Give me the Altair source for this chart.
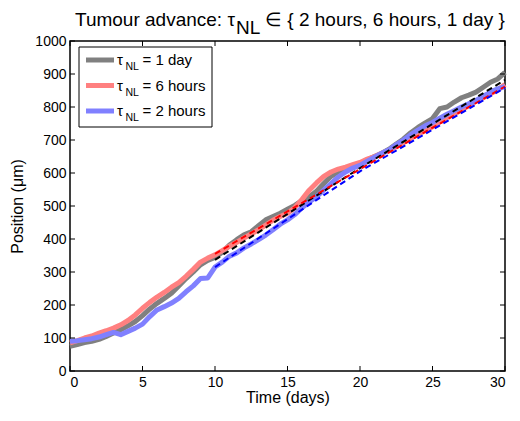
import altair as alt
import pandas as pd

FONT = "Liberation Sans"

# ---------------- data ----------------
time_days = [0, 0.5, 1, 1.5, 2, 2.5, 3, 3.5, 4, 4.5, 5, 5.5, 6, 6.5, 7, 7.5, 8, 8.5, 9, 9.5,
             10, 10.5, 11, 11.5, 12, 12.5, 13, 13.5, 14, 14.5, 15, 15.5, 16, 16.5, 17, 17.5,
             18, 18.5, 19, 19.5, 20, 20.5, 21, 21.5, 22, 22.5, 23, 23.5, 24, 24.5, 25, 25.5,
             26, 26.5, 27, 27.5, 28, 28.5, 29, 29.5, 30]

pos_1day = [75, 80, 86, 90, 96, 105, 115, 125, 137, 150, 168, 188, 205, 220, 236, 258, 280, 300,
            322, 335, 344, 360, 382, 398, 413, 422, 440, 458, 468, 478, 490, 502, 516, 528, 545,
            568, 590, 603, 612, 620, 628, 640, 650, 660, 672, 688, 703, 722, 738, 752, 765, 795,
            800, 815, 828, 836, 845, 860, 875, 885, 905]

pos_6h = [85, 92, 100, 106, 115, 122, 130, 140, 153, 170, 190, 208, 224, 238, 254, 268, 287, 308,
          330, 342, 352, 365, 378, 390, 403, 415, 428, 442, 457, 468, 478, 495, 520, 548, 570,
          590, 603, 612, 618, 625, 632, 642, 650, 660, 668, 680, 692, 705, 718, 728, 740, 755,
          768, 780, 790, 805, 818, 828, 840, 852, 868]

pos_2h = [90, 92, 95, 98, 103, 110, 117, 110, 120, 130, 142, 165, 185, 195, 206, 220, 240, 258,
          280, 282, 315, 330, 348, 358, 373, 385, 398, 412, 428, 445, 458, 474, 495, 512, 528,
          548, 568, 588, 603, 615, 623, 636, 648, 660, 670, 686, 700, 716, 730, 743, 753, 766,
          778, 789, 800, 810, 820, 833, 845, 855, 862]

fit_days = [10, 20, 30]
fit_1day = [337, 615, 882]
fit_6h = [355, 612, 862]
fit_2h = [315, 605, 858]

x_ticks = [0, 5, 10, 15, 20, 25, 30]
y_ticks = [0, 100, 200, 300, 400, 500, 600, 700, 800, 900, 1000]

legend_values = ["= 1 day", "= 6 hours", "= 2 hours"]
title_parts = ["Tumour advance: \u03c4", "NL", "\u2208 { 2 hours, 6 hours, 1 day }"]
x_title = "Time (days)"
y_title = "Position (\u03bcm)"

# ---------------- styling ----------------
W, H = 435, 330
solid_colors = ["#808080", "#ff8080", "#8080ff"]
dash_colors = ["#000000", "#ff0000", "#0000ff"]

xscale = alt.Scale(domain=[0, 30], nice=False, zero=False)
yscale = alt.Scale(domain=[0, 1000], nice=False, zero=False)
xaxis = alt.Axis(values=x_ticks, title=x_title, labelPadding=4, titlePadding=0,
                 labelFontSize=14, titleFontSize=16, format="d")
yaxis = alt.Axis(values=y_ticks, title=y_title, labelPadding=4, titlePadding=9,
                 labelFontSize=14, titleFontSize=16, format="d")


def X():
    return alt.X("day:Q", scale=xscale, axis=xaxis)


def Y():
    return alt.Y("pos:Q", scale=yscale, axis=yaxis)


layers = []

# solid curves
for vals, col in zip([pos_1day, pos_6h, pos_2h], solid_colors):
    df = pd.DataFrame({"day": time_days, "pos": vals})
    layers.append(alt.Chart(df).mark_line(color=col, strokeWidth=5, strokeJoin="round")
                  .encode(x=X(), y=Y()))

# dashed fits
for vals, col in zip([fit_1day, fit_6h, fit_2h], dash_colors):
    df = pd.DataFrame({"day": fit_days, "pos": vals})
    layers.append(alt.Chart(df).mark_line(color=col, strokeWidth=2, strokeDash=[6, 4])
                  .encode(x=X(), y=Y()))

# inward ticks
xt = pd.DataFrame({"day": x_ticks})
yt = pd.DataFrame({"pos": y_ticks})
layers.append(alt.Chart(xt).mark_rule(color="black", strokeWidth=1)
              .encode(x=X(), y=alt.value(H), y2=alt.value(H - 5)))
layers.append(alt.Chart(xt).mark_rule(color="black", strokeWidth=1)
              .encode(x=X(), y=alt.value(0), y2=alt.value(5)))
layers.append(alt.Chart(yt).mark_rule(color="black", strokeWidth=1)
              .encode(y=Y(), x=alt.value(0), x2=alt.value(5)))
layers.append(alt.Chart(yt).mark_rule(color="black", strokeWidth=1)
              .encode(y=Y(), x=alt.value(W), x2=alt.value(W - 5)))

# legend
one = pd.DataFrame({"a": [0]})
layers.append(alt.Chart(one).mark_rect(fill="white", stroke="black", strokeWidth=1)
              .encode(x=alt.value(9), x2=alt.value(142), y=alt.value(6), y2=alt.value(86)))
row_y = [19, 44.5, 70]
for ry, col, lab in zip(row_y, solid_colors, legend_values):
    layers.append(alt.Chart(one).mark_rule(color=col, strokeWidth=5)
                  .encode(x=alt.value(16), x2=alt.value(44), y=alt.value(ry)))
    layers.append(alt.Chart(one).mark_text(align="left", baseline="alphabetic", font=FONT,
                                           fontSize=15, color="black", text="\u03c4")
                  .encode(x=alt.value(47), y=alt.value(ry + 5.3)))
    layers.append(alt.Chart(one).mark_text(align="left", baseline="alphabetic", font=FONT,
                                           fontSize=10.5, color="black", text="NL")
                  .encode(x=alt.value(55.5), y=alt.value(ry + 10)))
    layers.append(alt.Chart(one).mark_text(align="left", baseline="alphabetic", font=FONT,
                                           fontSize=15, color="black", text=lab)
                  .encode(x=alt.value(72.5), y=alt.value(ry + 5.3)))

# title (with subscript)
TF = 19
layers.append(alt.Chart(one).mark_text(align="left", baseline="alphabetic", font=FONT,
                                       fontSize=TF, color="black", text=title_parts[0])
              .encode(x=alt.value(5), y=alt.value(-15)))
layers.append(alt.Chart(one).mark_text(align="left", baseline="alphabetic", font=FONT,
                                       fontSize=TF, color="black", text=title_parts[1])
              .encode(x=alt.value(166), y=alt.value(-7)))
layers.append(alt.Chart(one).mark_text(align="left", baseline="alphabetic", font=FONT,
                                       fontSize=TF, color="black", text=title_parts[2])
              .encode(x=alt.value(195), y=alt.value(-15)))

chart = alt.layer(*layers).properties(
    width=W, height=H,
    padding={"left": 62, "top": 33, "right": 7, "bottom": 36},
    autosize=alt.AutoSizeParams(type="none"),
).configure_view(stroke="black", strokeWidth=1.5).configure_axis(
    grid=False, domain=False, ticks=False, labelFont=FONT, titleFont=FONT,
    labelColor="black", titleColor="black", titleFontWeight="normal",
)

chart.save("out.html", embed_options={"renderer": "svg", "actions": False})
